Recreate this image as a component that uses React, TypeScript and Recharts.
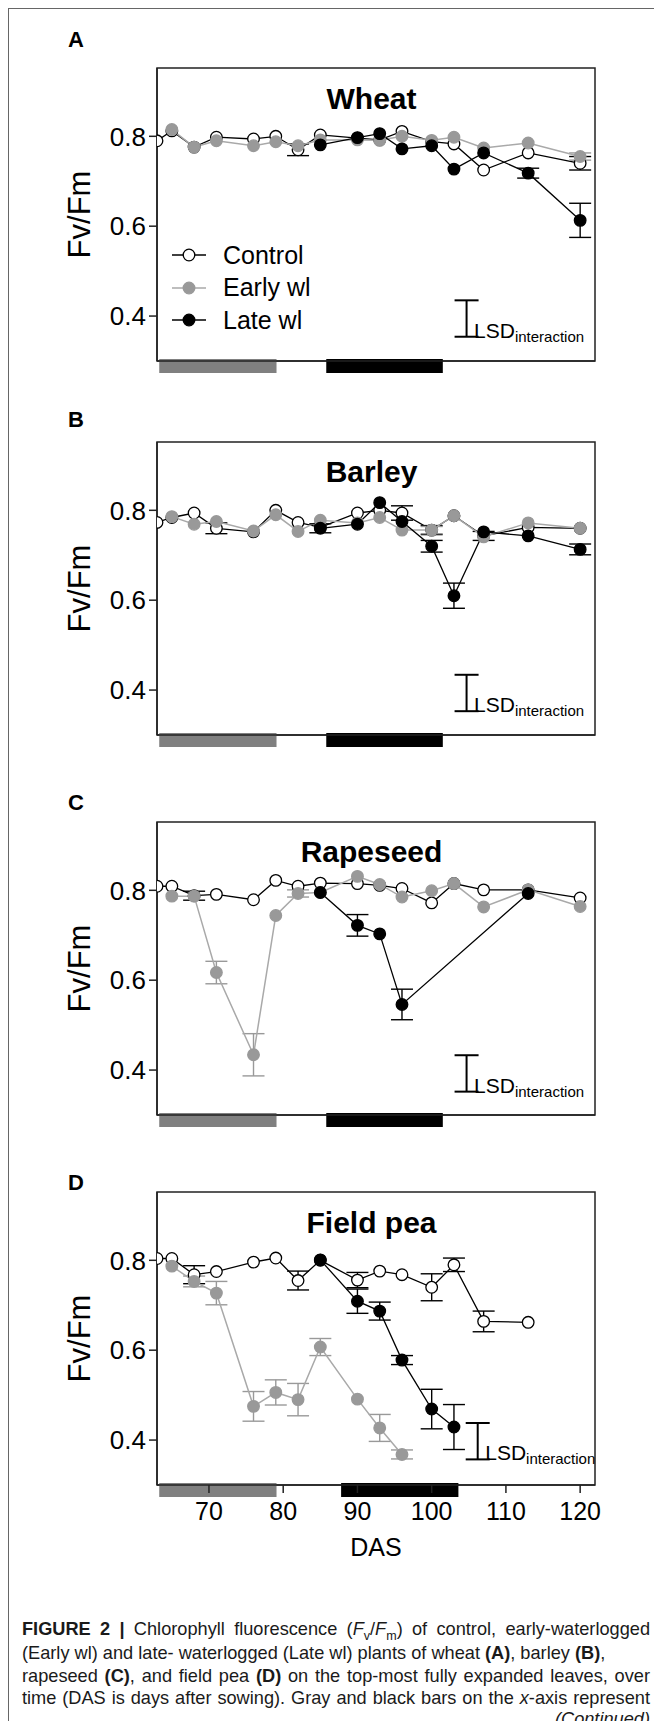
import React from "react";
import {
  ComposedChart,
  Line,
  Scatter,
  XAxis,
  YAxis,
  ErrorBar,
  ReferenceArea,
  Legend,
} from "recharts";

// sampling days (DAS) shared by all panels
const das = [63, 65, 68, 71, 76, 79, 82, 85, 90, 93, 96, 100, 103, 107, 113, 120];
const dasTicks = [70, 80, 90, 100, 110, 120];
const fvfmTicks = [0.4, 0.6, 0.8];

// waterlogging periods shown as bars on the x-axis
const earlyPeriod = [63.3, 79.1];
const latePeriod = [85.8, 101.5];
const latePeriodPea = [87.8, 103.6];

// wheat
const wheatControl = [0.79, 0.812, 0.776, 0.798, 0.794, 0.8, 0.77, 0.803, 0.796, 0.792, 0.811, 0.788, 0.783, 0.725, 0.763, 0.74];
const wheatControlSe = [0, 0, 0, 0, 0, 0, 0.013, 0, 0, 0, 0, 0, 0, 0, 0, 0.015];
const wheatEarly = [null, 0.815, 0.776, 0.79, 0.779, 0.788, 0.779, 0.792, 0.792, 0.791, 0.8, 0.791, 0.798, 0.774, 0.785, 0.755];
const wheatEarlySe = [0, 0, 0, 0, 0, 0, 0, 0, 0, 0, 0, 0, 0, 0, 0, 0.008];
const wheatLate = [null, null, null, null, null, null, null, 0.781, 0.797, 0.806, 0.772, 0.779, 0.727, 0.763, 0.718, 0.613];
const wheatLateSe = [0, 0, 0, 0, 0, 0, 0, 0, 0, 0, 0, 0, 0, 0, 0.011, 0.038];

// barley
const barleyControl = [0.773, 0.784, 0.794, 0.76, 0.752, 0.8, 0.773, 0.762, 0.794, 0.8, 0.794, 0.756, 0.788, 0.743, 0.762, 0.76];
const barleyControlSe = [0, 0, 0, 0.012, 0, 0, 0, 0, 0, 0, 0.016, 0.01, 0, 0.01, 0, 0];
const barleyEarly = [null, 0.786, 0.769, 0.775, 0.754, 0.79, 0.753, 0.778, 0.772, 0.784, 0.756, 0.756, 0.788, 0.741, 0.772, 0.76];
const barleyEarlySe = [0, 0, 0, 0, 0, 0, 0, 0, 0, 0, 0, 0.008, 0, 0, 0, 0];
const barleyLate = [null, null, null, null, null, null, null, 0.76, 0.769, 0.817, 0.775, 0.72, 0.61, 0.752, 0.743, 0.713];
const barleyLateSe = [0, 0, 0, 0, 0, 0, 0, 0.01, 0, 0, 0, 0.013, 0.028, 0, 0, 0.012];

// rapeseed
const rapeControl = [0.809, 0.809, 0.788, 0.791, 0.779, 0.822, 0.809, 0.816, 0.815, 0.811, 0.804, 0.772, 0.815, 0.801, 0.801, 0.783];
const rapeControlSe = [0, 0, 0.01, 0, 0, 0, 0, 0, 0, 0, 0, 0, 0, 0, 0, 0];
const rapeEarly = [null, 0.787, 0.787, 0.617, 0.434, 0.744, 0.793, 0.795, 0.831, 0.813, 0.785, 0.799, 0.815, 0.763, 0.801, 0.764];
const rapeEarlySe = [0, 0, 0, 0.025, 0.047, 0, 0.008, 0, 0, 0, 0, 0, 0, 0, 0, 0];
const rapeLate = [null, null, null, null, null, null, null, 0.795, 0.722, 0.703, 0.546, null, null, null, 0.793, null];
const rapeLateSe = [0, 0, 0, 0, 0, 0, 0, 0, 0.024, 0, 0.034, 0, 0, 0, 0, 0];

// field pea
const peaControl = [0.804, 0.804, 0.768, 0.775, 0.796, 0.805, 0.755, 0.8, 0.756, 0.776, 0.768, 0.74, 0.79, 0.664, 0.662, null];
const peaControlSe = [0, 0, 0.02, 0, 0, 0, 0.021, 0, 0.017, 0, 0, 0.03, 0.015, 0.023, 0, 0];
const peaEarly = [null, 0.787, 0.753, 0.727, 0.475, 0.506, 0.49, 0.607, 0.491, 0.427, 0.368, null, null, null, null, null];
const peaEarlySe = [0, 0, 0.012, 0.026, 0.033, 0.028, 0.036, 0.019, 0, 0.03, 0.01, 0, 0, 0, 0, 0];
const peaLate = [null, null, null, null, null, null, null, 0.801, 0.709, 0.687, 0.578, 0.469, 0.429, null, null, null];
const peaLateSe = [0, 0, 0, 0, 0, 0, 0, 0, 0.027, 0.02, 0.01, 0.044, 0.05, 0, 0, 0];

// LSD (interaction) bars: position (DAS), lower end and length, panels A-D
const lsdDas = [104.7, 104.7, 104.7, 106.2];
const lsdLow = [0.354, 0.353, 0.352, 0.357];
const lsdSize = 0.081;

const FONT = '"Liberation Sans", Arial, Helvetica, sans-serif';
const Y_DOMAIN: [number, number] = [0.3, 0.952];
const X_DOMAIN: [number, number] = [63, 122];
// vertical extent of the period bars (just under the axis line)
const BAR_TOP = 0.3045;
const BAR_BOTTOM = 0.2735;

type Pt = { das: number; v: number; e: number };

const toPoints = (vals: (number | null)[], se: number[]): Pt[] =>
  das.flatMap((d, i) => (vals[i] == null ? [] : [{ das: d, v: vals[i] as number, e: se[i] }]));

const series = [
  { name: "Control", line: "#000", width: 1.3, fill: "#fff", dotStroke: "#000", err: "#000" },
  { name: "Early wl", line: "#a9a9a9", width: 1.5, fill: "#999", dotStroke: "#999", err: "#999" },
  { name: "Late wl", line: "#000", width: 1.3, fill: "#000", dotStroke: "#000", err: "#000" },
];

const yLabel = (props: any) => {
  const { x, y, height } = props.viewBox;
  const cx = x + 71;
  const cy = y + height / 2;
  return (
    <text
      x={cx}
      y={cy}
      transform={`rotate(-90 ${cx} ${cy})`}
      textAnchor="middle"
      dominantBaseline="central"
      fontSize={31}
      fill="#000"
    >
      Fv/Fm
    </text>
  );
};

const dasLabel = (props: any) => {
  const { x, y, width } = props.viewBox;
  return (
    <text x={x + width / 2} y={y + 62} textAnchor="middle" dominantBaseline="central" fontSize={25} fill="#000">
      DAS
    </text>
  );
};

const LsdMark = (props: any) => (
  <text x={props.cx + 7.5} y={props.cy + 1} fontSize={21} fill="#000">
    LSD
    <tspan fontSize={15} dy={4}>
      interaction
    </tspan>
  </text>
);

function LegendBox() {
  return (
    <div style={{ fontFamily: FONT }}>
      {series.map((s) => (
        <div key={s.name} style={{ display: "flex", alignItems: "center", height: 32.5 }}>
          <svg width={34} height={14}>
            <line x1={0} y1={7} x2={34} y2={7} stroke={s.line} strokeWidth={s.width} />
            <circle cx={17} cy={7} r={5.8} fill={s.fill} stroke={s.dotStroke} strokeWidth={1.3} />
          </svg>
          <span style={{ marginLeft: 17, fontSize: 25, color: "#000", lineHeight: 1 }}>{s.name}</span>
        </div>
      ))}
    </div>
  );
}

function Panel({
  top,
  index,
  control,
  early,
  late,
  lateBar,
  legend,
  xLabels,
}: {
  top: number;
  index: number;
  control: Pt[];
  early: Pt[];
  late: Pt[];
  lateBar: number[];
  legend?: boolean;
  xLabels?: boolean;
}) {
  const lsd = [{ das: lsdDas[index], v: lsdLow[index], e: [0, lsdSize] }];
  const groups = [control, early, late];
  return (
    <div style={{ position: "absolute", left: 0, top }}>
      <ComposedChart
        width={654}
        height={xLabels ? 383 : 323}
        margin={{ top: 10, right: 67, bottom: 0, left: 0 }}
      >
        <XAxis
          type="number"
          dataKey="das"
          domain={X_DOMAIN}
          ticks={dasTicks}
          interval={0}
          allowDataOverflow
          axisLine={{ stroke: "#222", strokeWidth: 1.5 }}
          tickLine={{ stroke: "#222", strokeWidth: 1.5 }}
          tickSize={8}
          tickMargin={9}
          tick={xLabels ? { fontSize: 25, fill: "#000" } : false}
          height={xLabels ? 80 : 20}
          label={xLabels ? { content: dasLabel } : undefined}
        />
        <YAxis
          type="number"
          domain={Y_DOMAIN}
          ticks={fvfmTicks}
          allowDataOverflow
          width={149}
          axisLine={{ stroke: "#222", strokeWidth: 1.5 }}
          tickLine={{ stroke: "#222", strokeWidth: 1.5 }}
          tickSize={8}
          tickMargin={3}
          tick={{ fontSize: 26, fill: "#000" }}
          tickFormatter={(v: number) => v.toFixed(1)}
          label={{ content: yLabel }}
        />
        <ReferenceArea
          x1={X_DOMAIN[0]}
          x2={X_DOMAIN[1]}
          y1={Y_DOMAIN[0]}
          y2={Y_DOMAIN[1]}
          fill="none"
          fillOpacity={0}
          stroke="#222"
          strokeWidth={1.5}
          ifOverflow="visible"
        />
        <ReferenceArea
          x1={earlyPeriod[0]}
          x2={earlyPeriod[1]}
          y1={BAR_BOTTOM}
          y2={BAR_TOP}
          fill="#808080"
          fillOpacity={1}
          stroke="none"
          ifOverflow="visible"
        />
        <ReferenceArea
          x1={lateBar[0]}
          x2={lateBar[1]}
          y1={BAR_BOTTOM}
          y2={BAR_TOP}
          fill="#000"
          fillOpacity={1}
          stroke="none"
          ifOverflow="visible"
        />
        {groups.map((g, i) => {
          const s = series[i];
          return (
            <Line
              key={s.name}
              name={s.name}
              data={g}
              dataKey="v"
              type="linear"
              stroke={s.line}
              strokeWidth={s.width}
              dot={{ r: 5.8, fill: s.fill, stroke: s.dotStroke, strokeWidth: 1.3 }}
              activeDot={false}
              isAnimationActive={false}
            >
              <ErrorBar dataKey="e" direction="y" width={11} stroke={s.err} strokeWidth={1.4} />
            </Line>
          );
        })}
        <Scatter data={lsd} dataKey="v" shape={LsdMark} isAnimationActive={false} legendType="none">
          <ErrorBar dataKey="e" direction="y" width={12} stroke="#000" strokeWidth={2} />
        </Scatter>
        {legend && (
          <Legend
            layout="vertical"
            align="center"
            verticalAlign="middle"
            content={() => <LegendBox />}
            wrapperStyle={{ left: 164, top: 181, width: "auto" }}
          />
        )}
      </ComposedChart>
    </div>
  );
}

const letterStyle: React.CSSProperties = {
  position: "absolute",
  fontWeight: "bold",
  fontSize: 22,
  lineHeight: 1,
  transform: "translate(-50%, -50%)",
};

const titleStyle: React.CSSProperties = {
  position: "absolute",
  left: 363.5,
  fontWeight: "bold",
  fontSize: 30,
  lineHeight: 1,
  whiteSpace: "nowrap",
  transform: "translate(-50%, -50%)",
};

// caption lines are justified to the text block width like the source page
const capLine: React.CSSProperties = {
  position: "absolute",
  left: 14,
  width: 628,
  fontSize: 18.2,
  lineHeight: 1,
  whiteSpace: "nowrap",
  color: "#1a1a1a",
  textAlign: "justify",
  textAlignLast: "justify",
  transform: "translateY(-50%)",
};

const subStyle: React.CSSProperties = { fontSize: 12.5, lineHeight: 0 };

const panels = [
  { letter: "A", title: "Wheat", top: 50, letterY: 32, titleY: 91 },
  { letter: "B", title: "Barley", top: 424, letterY: 412, titleY: 464 },
  { letter: "C", title: "Rapeseed", top: 804, letterY: 795, titleY: 844 },
  { letter: "D", title: "Field pea", top: 1174, letterY: 1175, titleY: 1215 },
];

export default function App() {
  return (
    <div style={{ position: "relative", width: 654, height: 1713, fontFamily: FONT, color: "#000" }}>
      <style>{`html, body { overflow: hidden; }`}</style>
      <div style={{ position: "absolute", left: 0, top: 0, width: 1, height: 1721, background: "#666" }} />
      <div style={{ position: "absolute", left: 0, top: 0, width: 654, height: 1, background: "#666" }} />

      <Panel
        top={panels[0].top}
        index={0}
        control={toPoints(wheatControl, wheatControlSe)}
        early={toPoints(wheatEarly, wheatEarlySe)}
        late={toPoints(wheatLate, wheatLateSe)}
        lateBar={latePeriod}
        legend
      />
      <Panel
        top={panels[1].top}
        index={1}
        control={toPoints(barleyControl, barleyControlSe)}
        early={toPoints(barleyEarly, barleyEarlySe)}
        late={toPoints(barleyLate, barleyLateSe)}
        lateBar={latePeriod}
      />
      <Panel
        top={panels[2].top}
        index={2}
        control={toPoints(rapeControl, rapeControlSe)}
        early={toPoints(rapeEarly, rapeEarlySe)}
        late={toPoints(rapeLate, rapeLateSe)}
        lateBar={latePeriod}
      />
      <Panel
        top={panels[3].top}
        index={3}
        control={toPoints(peaControl, peaControlSe)}
        early={toPoints(peaEarly, peaEarlySe)}
        late={toPoints(peaLate, peaLateSe)}
        lateBar={latePeriodPea}
        xLabels
      />

      {panels.map((p) => (
        <React.Fragment key={p.letter}>
          <div style={{ ...letterStyle, left: 68, top: p.letterY }}>{p.letter}</div>
          <div style={{ ...titleStyle, top: p.titleY }}>{p.title}</div>
        </React.Fragment>
      ))}

      <div style={{ ...capLine, top: 1621 }}>
        <b>FIGURE 2 |</b> Chlorophyll fluorescence (<i>F</i>
        <sub style={subStyle}>v</sub>/<i>F</i>
        <sub style={subStyle}>m</sub>) of control, early-waterlogged
      </div>
      <div style={{ ...capLine, top: 1645, textAlign: "left", textAlignLast: "left" }}>
        (Early wl) and late- waterlogged (Late wl) plants of wheat <b>(A)</b>, barley <b>(B)</b>,
      </div>
      <div style={{ ...capLine, top: 1668 }}>
        rapeseed <b>(C)</b>, and field pea <b>(D)</b> on the top-most fully expanded leaves, over
      </div>
      <div style={{ ...capLine, top: 1690 }}>
        time (DAS is days after sowing). Gray and black bars on the <i>x</i>-axis represent
      </div>
      <div style={{ ...capLine, top: 1711, textAlign: "right", textAlignLast: "right" }}>
        <i>(Continued)</i>
      </div>
    </div>
  );
}
